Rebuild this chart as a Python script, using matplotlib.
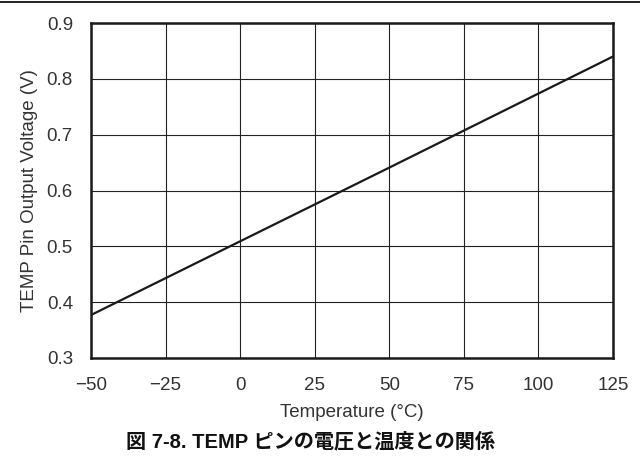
import matplotlib
matplotlib.use("Agg")
import matplotlib.pyplot as plt
from matplotlib.lines import Line2D

temperature = [-50, 0, 50, 125]
voltage = [0.377, 0.509, 0.641, 0.840]
x_ticks = [-50, -25, 0, 25, 50, 75, 100, 125]
x_labels = ["\u221250", "\u221225", "0", "25", "50", "75", "100", "125"]
y_ticks = [0.3, 0.4, 0.5, 0.6, 0.7, 0.8, 0.9]
y_labels = ["0.3", "0.4", "0.5", "0.6", "0.7", "0.8", "0.9"]

plt.rcParams['font.family'] = ['Liberation Sans', 'Noto Sans CJK JP', 'DejaVu Sans']

fig = plt.figure(figsize=(6.4, 4.7), dpi=100)
ax = fig.add_axes([91/640, 1 - 358/470, (613-91)/640, (358-23)/470])

ax.plot(temperature, voltage, color='#1a1a1a', lw=1.6, solid_capstyle='butt')
ax.set_xlim(-50, 125)
ax.set_ylim(0.3, 0.9)
ax.set_xticks(x_ticks)
ax.set_xticklabels(x_labels)
ax.set_yticks(y_ticks)
ax.set_yticklabels(y_labels)
ax.grid(True, color='#222222', lw=0.8)
ax.tick_params(axis='x', length=0, labelsize=13.5, labelcolor='#333333', pad=14)
ax.tick_params(axis='y', length=0, labelsize=13.5, labelcolor='#333333', pad=13)
for s in ax.spines.values():
    s.set_linewidth(1.8)
    s.set_color('#1a1a1a')
ax.set_xlabel("Temperature (\u00b0C)", fontsize=13.5, color='#333333', labelpad=7)
ax.set_ylabel("TEMP Pin Output Voltage (V)", fontsize=13.5, color='#333333', labelpad=6)

fig.text(311/640, 1 - 442/470, "図 7-8. TEMP ピンの電圧と温度との関係", ha='center', va='center',
         fontsize=14.5, fontweight='bold', color='#111111')
fig.add_artist(Line2D([0, 1], [1 - 2/470, 1 - 2/470], color='black', lw=1.2, transform=fig.transFigure))

fig.savefig("out.png", dpi=100)
